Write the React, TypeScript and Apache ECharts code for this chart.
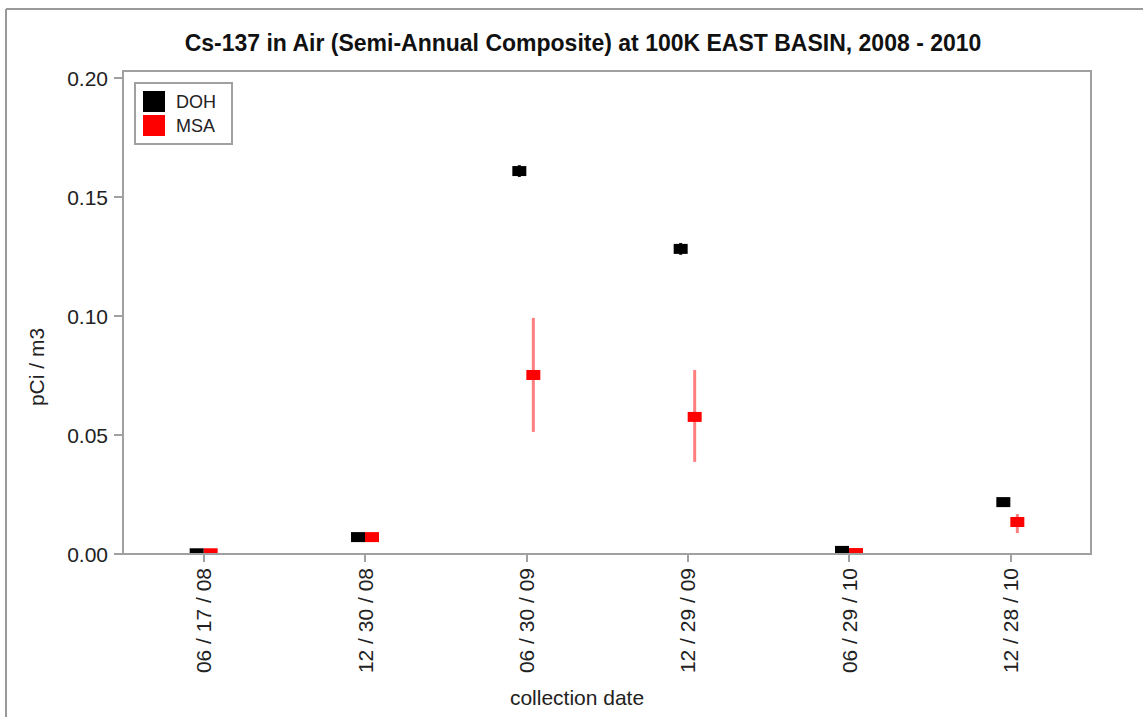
import React, { useEffect, useRef } from 'react';
import * as echarts from 'echarts';

const titleText = 'Cs-137 in Air (Semi-Annual Composite) at 100K EAST BASIN, 2008 - 2010';
const categories = ['06 / 17 / 08', '12 / 30 / 08', '06 / 30 / 09', '12 / 29 / 09', '06 / 29 / 10', '12 / 28 / 10'];
const dohValues = [0.0003, 0.0071, 0.1609, 0.1282, 0.0013, 0.0218];
const dohLow = [0.0003, 0.0071, 0.1584, 0.1257, 0.0013, 0.0218];
const dohHigh = [0.0003, 0.0071, 0.1634, 0.1307, 0.0013, 0.0218];
const msaValues = [0.0003, 0.0071, 0.0752, 0.0576, 0.0004, 0.0134];
const msaLow = [0.0003, 0.0058, 0.0513, 0.0387, 0.0004, 0.0088];
const msaHigh = [0.0003, 0.0084, 0.0992, 0.0773, 0.0004, 0.0168];
const yMin = 0;
const yMax = 0.2;
const yInterval = 0.05;

const FONT = '"Liberation Sans", Arial, sans-serif';

function makeRender(offset: number, fill: string, barColor: string) {
  return (params: any, api: any) => {
    const cat = api.value(0);
    const p = api.coord([cat, api.value(1)]);
    const lo = api.coord([cat, api.value(2)]);
    const hi = api.coord([cat, api.value(3)]);
    const x = p[0] + offset;
    return {
      type: 'group',
      children: [
        {
          type: 'line',
          shape: { x1: x, y1: lo[1], x2: x, y2: hi[1] },
          style: { stroke: barColor, lineWidth: 3 },
        },
        {
          type: 'rect',
          shape: { x: x - 7, y: p[1] - 5, width: 14, height: 10 },
          style: { fill },
        },
      ],
    };
  };
}

export default function App() {
  const ref = useRef<HTMLDivElement>(null);
  useEffect(() => {
    if (!ref.current) return;
    const chart = echarts.init(ref.current, null, { renderer: 'svg' });
    const dohData = categories.map((c, i) => [i, dohValues[i], dohLow[i], dohHigh[i]]);
    const msaData = categories.map((c, i) => [i, msaValues[i], msaLow[i], msaHigh[i]]);
    chart.setOption({
      animation: false,
      backgroundColor: '#ffffff',
      title: {
        text: titleText,
        left: 578,
        textAlign: 'center',
        top: 26,
        textStyle: { fontFamily: FONT, fontSize: 23, fontWeight: 'bold', color: '#111' },
      },
      legend: {
        orient: 'vertical',
        left: 135,
        top: 83,
        padding: [8, 16, 8, 8],
        itemWidth: 22,
        itemHeight: 21,
        itemGap: 3,
        borderColor: '#a0a0a0',
        borderWidth: 2,
        backgroundColor: '#fff',
        textStyle: { fontFamily: FONT, fontSize: 18, color: '#222', padding: [0, 0, 0, 6] },
        data: [
          { name: 'DOH', icon: 'rect' },
          { name: 'MSA', icon: 'rect' },
        ],
      },
      grid: { left: 123, right: 52, top: 78, bottom: 163 },
      xAxis: {
        type: 'category',
        data: categories,
        boundaryGap: true,
        axisLine: { show: false },
        axisTick: { show: true, alignWithLabel: true, length: 8, lineStyle: { color: '#a0a0a0', width: 2 } },
        axisLabel: { rotate: 90, margin: 14, fontFamily: FONT, fontSize: 21, color: '#222' },
        splitLine: { show: false },
      },
      yAxis: {
        type: 'value',
        min: yMin,
        max: yMax,
        interval: yInterval,
        axisLine: { show: false },
        axisTick: { show: true, length: 9, lineStyle: { color: '#a0a0a0', width: 2 } },
        axisLabel: {
          margin: 15,
          fontFamily: FONT,
          fontSize: 21,
          color: '#222',
          formatter: (v: number) => v.toFixed(2),
        },
        splitLine: { show: false },
      },
      graphic: [
        { type: 'line', shape: { x1: 6, y1: 9, x2: 1143, y2: 9 }, style: { stroke: '#999', lineWidth: 2 }, z: 0 },
        { type: 'line', shape: { x1: 6, y1: 9, x2: 6, y2: 717 }, style: { stroke: '#999', lineWidth: 2 }, z: 0 },
        {
          type: 'rect',
          shape: { x: 123, y: 71, width: 968, height: 483 },
          style: { fill: 'none', stroke: '#a0a0a0', lineWidth: 2 },
          z: 10,
          silent: true,
        },
        {
          type: 'text',
          x: 36,
          y: 367,
          rotation: Math.PI / 2,
          style: { text: 'pCi / m3', align: 'center', verticalAlign: 'middle', fontFamily: FONT, fontSize: 21, fill: '#222' },
        },
        {
          type: 'text',
          x: 577,
          y: 697,
          style: { text: 'collection date', align: 'center', verticalAlign: 'middle', fontFamily: FONT, fontSize: 21, fill: '#222' },
        },
      ],
      series: [
        {
          name: 'DOH',
          type: 'custom',
          clip: true,
          itemStyle: { color: '#000000' },
          renderItem: makeRender(-7, '#000000', 'rgba(0,0,0,0.9)'),
          data: dohData,
          z: 3,
        },
        {
          name: 'MSA',
          type: 'custom',
          clip: true,
          itemStyle: { color: '#ff0000' },
          renderItem: makeRender(7, '#ff0000', 'rgba(255,0,0,0.5)'),
          data: msaData,
          z: 2,
        },
      ],
    });
    return () => chart.dispose();
  }, []);
  return <div ref={ref} style={{ position: 'fixed', left: 0, top: 0, width: 1143, height: 717 }} />;
}
